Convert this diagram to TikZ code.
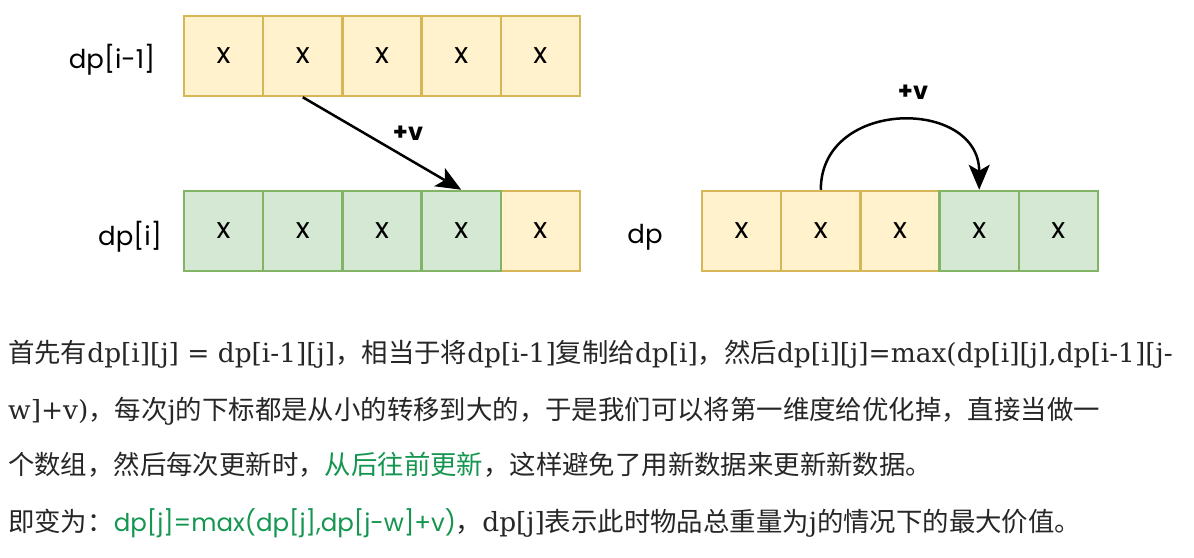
\documentclass[tikz,border=0pt]{standalone}
\usepackage{fontspec}
\usetikzlibrary{arrows.meta}
\setmainfont{DejaVu Serif}
\newfontfamily\cjk{Noto Sans CJK SC}
\newfontfamily\lab{Poppins}
\newcommand\C[1]{{\cjk #1}}
\definecolor{yfill}{HTML}{FFF2CC}
\definecolor{ydraw}{HTML}{D6B656}
\definecolor{gfill}{HTML}{D5E8D4}
\definecolor{gdraw}{HTML}{82B366}
\definecolor{tgreen}{RGB}{20,150,80}
\definecolor{tgray}{HTML}{262626}
\begin{document}
\begin{tikzpicture}[x=1pt,y=-1pt,
 cell/.style={minimum width=79.2pt,minimum height=80pt,inner sep=0pt,line width=2.5pt,font=\lab\fontsize{29}{29}\selectfont,anchor=center},
 ycell/.style={cell,fill=yfill,draw=ydraw},
 gcell/.style={cell,fill=gfill,draw=gdraw},
 lbl/.style={font=\lab\fontsize{26}{26}\selectfont,inner sep=0pt},
 plus/.style={font=\lab\bfseries\fontsize{24}{24}\selectfont,inner sep=0pt},
 txt/.style={anchor=base west,inner sep=0pt,text=tgray,font=\fontsize{26.4}{26.4}\selectfont},
 arr/.style={line width=2.5pt,-{Stealth[length=25pt,width=21pt,inset=6pt]}}]
\useasboundingbox (0,0) rectangle (1194,557);
% top row
\foreach \i/\x in {1/223.6,2/302.8,3/382,4/461.2,5/540.4}
  \node[ycell] (a\i) at (\x,56) {x};
% bottom-left row
\node[ycell] (b5) at (540.4,231) {x};
\foreach \i/\x in {1/223.6,2/302.8,3/382,4/461.2}
  \node[gcell] (b\i) at (\x,231) {x};
% right row
\foreach \i/\x in {1/741.6,2/820.8,3/900}
  \node[ycell] (c\i) at (\x,231) {x};
\foreach \i/\x in {4/979.2,5/1058.4}
  \node[gcell] (c\i) at (\x,231) {x};
% labels
\node[lbl] (l1) at (112,60) {dp[i-1]};
\node[lbl] (l2) at (130,237) {dp[i]};
\node[lbl] (l3) at (645,237) {dp};
\node[plus] (p1) at (408,133) {+v};
\node[plus] (p2) at (913,92) {+v};
% arrows
\draw[arr] (a2.south) -- (b4.north);
\draw[arr] (c2.north) .. controls +(0,-92) and +(0,-92) .. (c4.north);
% text
\node[txt] (t1) at (8,362) {\C{首先有}dp[i][j] = dp[i-1][j]\C{，相当于将}dp[i-1]\C{复制给}dp[i]\C{，然后}dp[i][j]=max(dp[i][j],dp[i-1][j-};
\node[txt] (t2) at (8,419) {w]+v)\C{，每次}j\C{的下标都是从小的转移到大的，于是我们可以将第一维度给优化掉，直接当做一}};
\node[txt] (t3) at (8,474) {\C{个数组，然后每次更新时，}{\color{tgreen}\C{从后往前更新}}\C{，这样避免了用新数据来更新新数据。}};
\node[txt] (t4) at (8,531) {\C{即变为：}{\color{tgreen}\lab\fontsize{24.5}{24.5}\selectfont dp[j]=max(dp[j],dp[j-w]+v)}\C{，}dp[j]\C{表示此时物品总重量为}j\C{的情况下的最大价值。}};
\end{tikzpicture}
\end{document}
